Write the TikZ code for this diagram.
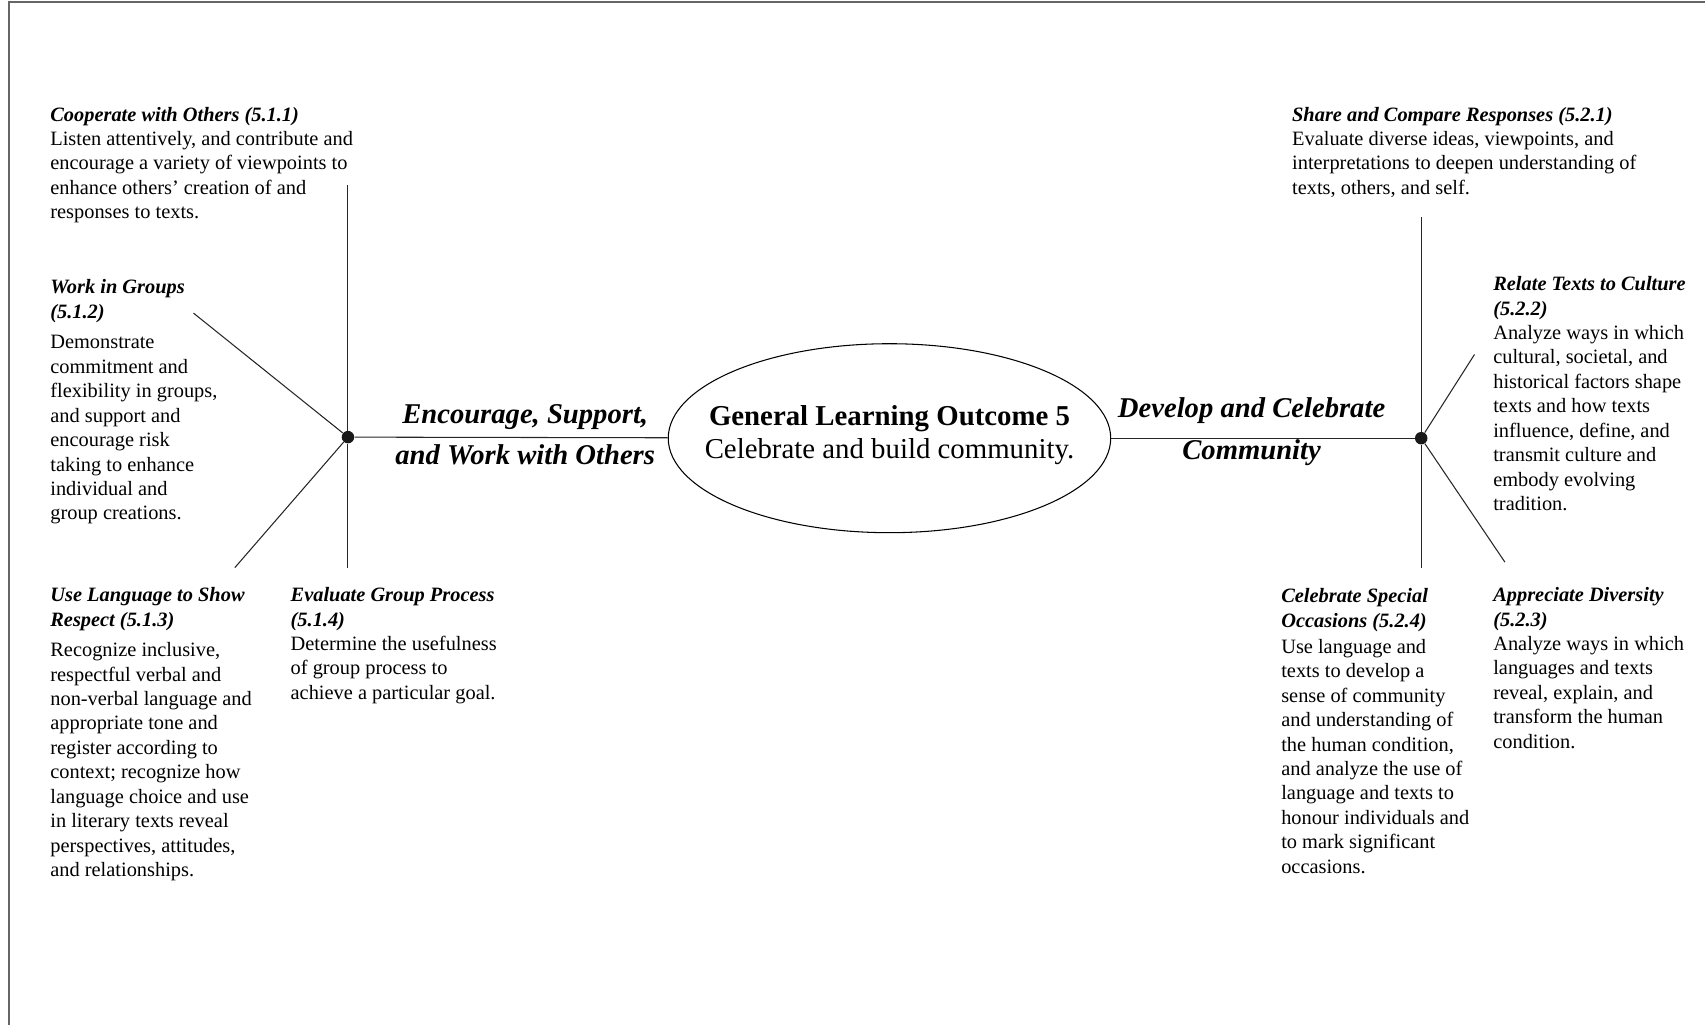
\documentclass[tikz,border=0pt]{standalone}
\usepackage{fontspec}
\setmainfont{Liberation Serif}
\usetikzlibrary{shapes.geometric}

\begin{document}
\begin{tikzpicture}[x=0.2175mm, y=-0.2175mm,
  branch/.style={line width=0.6pt, black!85},
  hub/.style={circle, fill=black!90, inner sep=0pt, minimum size=2.5mm},
  blurb/.style={anchor=north west, align=left, inner sep=0pt, font=\fontsize{11.6pt}{13.9pt}\selectfont},
  strand/.style={align=center, inner sep=0pt, font=\fontsize{16.3pt}{23.5pt}\selectfont\bfseries\itshape}]
\useasboundingbox (0,0) rectangle (1568,943);
% frame, only top and left
\draw[line width=1pt, black!60] (1568,2) -- (8,2) -- (8,943);

\node[draw, ellipse, line width=0.6pt, minimum width=88.5mm, minimum height=37.8mm, inner sep=0pt] (goal) at (818,403) {};
\node[align=center, inner sep=0pt, font=\fontsize{16.4pt}{19.1pt}\selectfont] (goaltxt) at (818,400)
  {\textbf{General Learning Outcome 5}\\Celebrate and build community.};

\node[hub] (lhub) at (320,402) {};
\node[hub] (rhub) at (1307,403) {};

\node[strand] (lstrand) at (483,400) {Encourage, Support,\\and Work with Others};
\node[strand] (rstrand) at (1151,397) {Develop and Celebrate\\Community};

% left outcomes
\node[blurb] (o511) at (46,98) {\textbf{\textit{Cooperate with Others (5.1.1)}}\\Listen attentively, and contribute and\\encourage a variety of viewpoints to\\enhance others’ creation of and\\responses to texts.};
\node[blurb] (o512) at (46,257) {\textbf{\textit{Work in Groups}}\\\textbf{\textit{(5.1.2)}}\\[3.5pt]Demonstrate\\commitment and\\flexibility in groups,\\and support and\\encourage risk\\taking to enhance\\individual and\\group creations.};
\node[blurb] (o513) at (46,540) {\textbf{\textit{Use Language to Show}}\\\textbf{\textit{Respect (5.1.3)}}\\[3.5pt]Recognize inclusive,\\respectful verbal and\\non-verbal language and\\appropriate tone and\\register according to\\context; recognize how\\language choice and use\\in literary texts reveal\\perspectives, attitudes,\\and relationships.};
\node[blurb] (o514) at (267,540) {\textbf{\textit{Evaluate Group Process}}\\\textbf{\textit{(5.1.4)}}\\Determine the usefulness\\of group process to\\achieve a particular goal.};

% right outcomes
\node[blurb] (o521) at (1188,98) {\textbf{\textit{Share and Compare Responses (5.2.1)}}\\Evaluate diverse ideas, viewpoints, and\\interpretations to deepen understanding of\\texts, others, and self.};
\node[blurb] (o522) at (1373,254) {\textbf{\textit{Relate Texts to Culture}}\\\textbf{\textit{(5.2.2)}}\\Analyze ways in which\\cultural, societal, and\\historical factors shape\\texts and how texts\\influence, define, and\\transmit culture and\\embody evolving\\tradition.};
\node[blurb] (o524) at (1178,541) {\textbf{\textit{Celebrate Special}}\\\textbf{\textit{Occasions (5.2.4)}}\\[1pt]Use language and\\texts to develop a\\sense of community\\and understanding of\\the human condition,\\and analyze the use of\\language and texts to\\honour individuals and\\to mark significant\\occasions.};
\node[blurb] (o523) at (1373,540) {\textbf{\textit{Appreciate Diversity}}\\\textbf{\textit{(5.2.3)}}\\Analyze ways in which\\languages and texts\\reveal, explain, and\\transform the human\\condition.};

% branch ends
\coordinate (e511) at (320,170);
\coordinate (e512) at (178,288);
\coordinate (e513) at (216,522);
\coordinate (e514) at (320,522);
\coordinate (e521) at (1307,200);
\coordinate (e522) at (1356,326);
\coordinate (e523) at (1384,517);
\coordinate (e524) at (1307,522);

\draw[branch] (lhub) -- (goal);
\draw[branch] (goal) -- (rhub);
\draw[branch] (lhub) -- (e511);
\draw[branch] (lhub) -- (e512);
\draw[branch] (lhub) -- (e513);
\draw[branch] (lhub) -- (e514);
\draw[branch] (rhub) -- (e521);
\draw[branch] (rhub) -- (e522);
\draw[branch] (rhub) -- (e523);
\draw[branch] (rhub) -- (e524);
\end{tikzpicture}
\end{document}
